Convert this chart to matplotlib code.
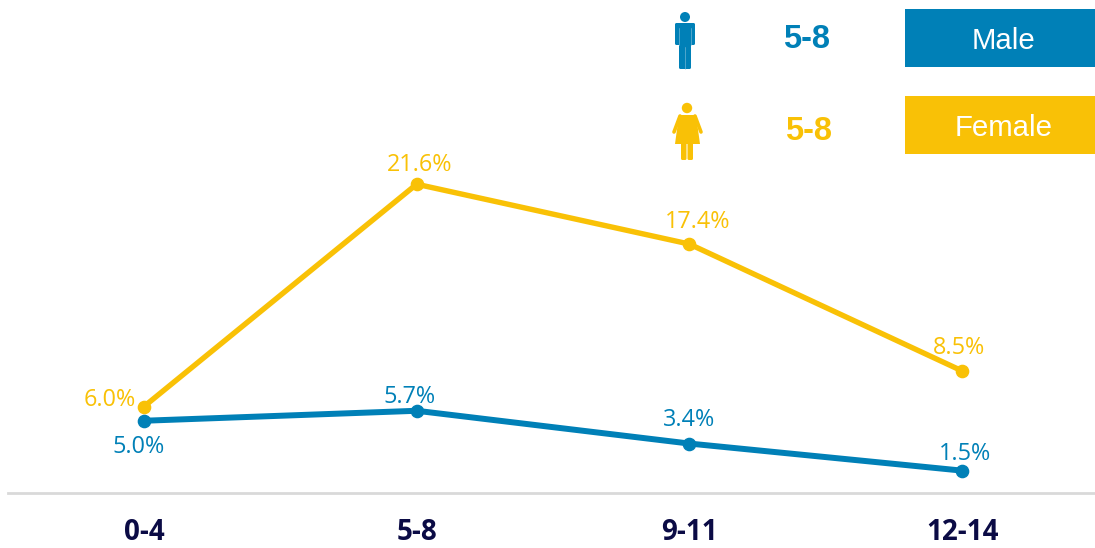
import matplotlib
matplotlib.use("Agg")
import matplotlib.pyplot as plt
from matplotlib.patches import Rectangle, Circle, Polygon, FancyBboxPatch

categories = ["0-4", "5-8", "9-11", "12-14"]
male = [5.0, 5.7, 3.4, 1.5]
female = [6.0, 21.6, 17.4, 8.5]
male_labels = ["5.0%", "5.7%", "3.4%", "1.5%"]
female_labels = ["6.0%", "21.6%", "17.4%", "8.5%"]
legend_names = ["Male", "Female"]
peak_text = "5-8"

BLUE = "#0080B7"
GOLD = "#F9C106"
W, H = 1095, 548

fig = plt.figure(figsize=(W / 100, H / 100), dpi=100)
ax = fig.add_axes([8 / W, (H - 493) / H, (W - 8) / W, 493 / H])
ax.set_xlim((8 - 144) / 272.67, (1095 - 144) / 272.67)
ax.set_ylim(-1 / 14.25, 492 / 14.25)
x = list(range(len(categories)))
ax.plot(x, female, color=GOLD, lw=3.9, marker="o", ms=8.8, solid_capstyle="round", zorder=3, clip_on=False)
ax.plot(x, male, color=BLUE, lw=4.3, marker="o", ms=8.8, solid_capstyle="round", zorder=4, clip_on=False)

for s in ["top", "left", "right"]:
    ax.spines[s].set_visible(False)
ax.spines["bottom"].set_color("#D9D9D9")
ax.spines["bottom"].set_linewidth(2)
ax.set_yticks([])
ax.set_xticks(x)
ax.set_xticklabels(categories, family="Open Sans", fontweight="bold", fontsize=20, color="#0B0B45")
ax.tick_params(axis="x", length=0, pad=18)
ax.patch.set_alpha(0)

lab = dict(family="Open Sans", fontsize=16.8, ha="center", va="center")
# label offsets in pixels from the point, right/up
f_off = [(-34, 6), (3, 19), (8, 22), (-3, 23)]
m_off = [(-5, -26), (-7, 14), (0, 24), (3, 17)]
for i, (v, t, o) in enumerate(zip(female, female_labels, f_off)):
    ax.annotate(t, (i, v), xytext=(o[0] * 0.72, o[1] * 0.72), textcoords="offset points", color=GOLD, **lab)
for i, (v, t, o) in enumerate(zip(male, male_labels, m_off)):
    ax.annotate(t, (i, v), xytext=(o[0] * 0.72, o[1] * 0.72), textcoords="offset points", color=BLUE, **lab)

ov = fig.add_axes([0, 0, 1, 1])
ov.set_xlim(0, W)
ov.set_ylim(H, 0)
ov.axis("off")
ov.patch.set_alpha(0)

ov.add_patch(Rectangle((905, 9), 190, 58, color=BLUE, lw=0))
ov.add_patch(Rectangle((905, 96), 190, 58, color=GOLD, lw=0))
ov.text(1003.5, 41, legend_names[0], color="white", family="Liberation Sans", fontsize=21.2, ha="center", va="center")
ov.text(1003.5, 128, legend_names[1], color="white", family="Liberation Sans", fontsize=21.2, ha="center", va="center")
ov.text(807, 40, peak_text, color=BLUE, family="Liberation Sans", fontweight="bold", fontsize=23.5, ha="center", va="center")
ov.text(808.5, 131, peak_text, color=GOLD, family="Liberation Sans", fontweight="bold", fontsize=23.5, ha="center", va="center")

def rbox(x0, y0, w, h, c, r=1.5):
    ov.add_patch(FancyBboxPatch((x0 + r, y0 + r), w - 2 * r, h - 2 * r,
                                boxstyle=f"round,pad={r},rounding_size={r}", color=c, lw=0))

# male pictogram
ov.add_patch(Circle((685, 17), 5, color=BLUE, lw=0))
rbox(675, 23, 20, 22, BLUE)
rbox(679, 30, 12, 39, BLUE)
ov.plot([679.3, 679.3], [28, 45], color="#8CC4DC", lw=0.4)
ov.plot([690.7, 690.7], [28, 45], color="#8CC4DC", lw=0.4)
ov.plot([685, 685], [47, 69], color="#8CC4DC", lw=0.4)

# female pictogram
ov.add_patch(Circle((687, 108), 5.2, color=GOLD, lw=0))
ov.add_patch(Polygon([(679, 115), (696, 115), (700, 144), (675, 144)], color=GOLD, lw=0))
ov.plot([680, 674], [116, 132], color=GOLD, lw=2.6, solid_capstyle="round")
ov.plot([695, 701], [116, 132], color=GOLD, lw=2.6, solid_capstyle="round")
rbox(681, 142, 5.5, 18, GOLD)
rbox(687.5, 142, 5.5, 18, GOLD)

fig.savefig("out.png", dpi=100)
